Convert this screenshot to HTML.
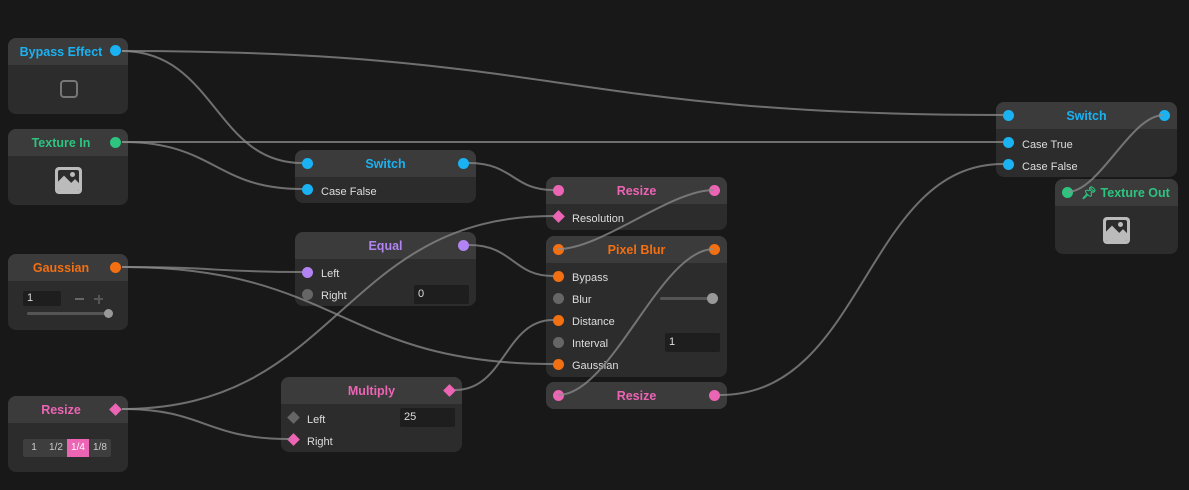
<!DOCTYPE html>
<html><head><meta charset="utf-8"><style>
body{margin:0;width:1189px;height:490px;background:#181818;overflow:hidden;font-family:"Liberation Sans",sans-serif;position:relative}
.n{position:absolute;background:#2c2c2c;border-radius:8px;overflow:hidden}
.h{height:27px;background:#3b3b3b;text-align:center;font-weight:bold;font-size:12.5px;line-height:28px;position:relative}
.s{position:absolute;width:11px;height:11px;border-radius:50%}
.d{position:absolute;width:9px;height:9px;transform:rotate(45deg)}
.r{position:absolute;font-size:11px;color:#ddd;margin-top:3px}
.in{position:absolute;background:#1e1e1e;border-radius:2px;font-size:11px;color:#ddd;padding-left:4px;box-sizing:border-box;line-height:19px}
.B{background:#1ab2f2}.G{background:#2ec480}.O{background:#f26f12}.P{background:#ec64b4}.V{background:#b184f2}.Y{background:#666}.Yd{background:#666}
svg{position:absolute;left:0;top:0}
</style></head><body>

<!-- Bypass Effect -->
<div class="n" style="left:8px;top:38px;width:120px;height:76px"><div class="h" style="color:#1ab2f2;padding-right:14px">Bypass Effect</div>
<div style="position:absolute;left:52px;top:42px;width:14px;height:14px;border:2px solid #777;border-radius:4px"></div></div>
<div class="s B" style="left:110px;top:45px"></div>

<!-- Texture In -->
<div class="n" style="left:8px;top:129px;width:120px;height:76px"><div class="h" style="color:#2ec480;padding-right:14px">Texture In</div>
<div style="position:absolute;left:47px;top:38px;width:27px;height:27px;background:#bbb;border-radius:4px"><div style="position:absolute;left:3px;top:3px;width:21px;height:21px;background:#2c2c2c;border-radius:2px;overflow:hidden"><div style="position:absolute;left:12px;top:2px;width:5px;height:5px;border-radius:50%;background:#bbb"></div><div style="position:absolute;left:-2px;top:9px;width:16px;height:16px;background:#bbb;transform:rotate(45deg)"></div><div style="position:absolute;left:10px;top:12px;width:14px;height:14px;background:#bbb;transform:rotate(45deg)"></div></div></div></div>
<div class="s G" style="left:110px;top:137px"></div>

<!-- Gaussian -->
<div class="n" style="left:8px;top:254px;width:120px;height:76px"><div class="h" style="color:#f26f12;padding-right:14px">Gaussian</div>
<div class="in" style="left:15px;top:37px;width:38px;height:15px;line-height:15px">1</div>
<div style="position:absolute;left:67px;top:44px;width:9px;height:2px;background:#666"></div>
<div style="position:absolute;left:86px;top:44px;width:9px;height:2px;background:#555"></div><div style="position:absolute;left:89.5px;top:40.5px;width:2px;height:9px;background:#555"></div>
<div style="position:absolute;left:19px;top:58px;width:82px;height:3px;background:#555;border-radius:2px"></div>
<div style="position:absolute;left:96px;top:55px;width:9px;height:9px;border-radius:50%;background:#999"></div></div>
<div class="s O" style="left:110px;top:262px"></div>

<!-- Resize left -->
<div class="n" style="left:8px;top:396px;width:120px;height:76px"><div class="h" style="color:#ec64b4;padding-right:14px">Resize</div>
<div style="position:absolute;left:15px;top:43px;width:88px;height:18px;background:#3e3e3e;border-radius:2px;font-size:10px;color:#ccc;line-height:18px">
<span style="position:absolute;left:0;width:22px;text-align:center">1</span><span style="position:absolute;left:22px;width:22px;text-align:center">1/2</span><span style="position:absolute;left:44px;width:22px;text-align:center;background:#ec64b4;color:#fff">1/4</span><span style="position:absolute;left:66px;width:22px;text-align:center">1/8</span></div></div>
<div class="d P" style="left:111px;top:405px"></div>

<!-- Switch mid -->
<div class="n" style="left:295px;top:150px;width:181px;height:53px"><div class="h" style="color:#1ab2f2">Switch</div>
<div class="r" style="left:26px;top:33px">Case False</div></div>
<div class="s B" style="left:302px;top:158px"></div><div class="s B" style="left:458px;top:158px"></div><div class="s B" style="left:302px;top:184px"></div>

<!-- Equal -->
<div class="n" style="left:295px;top:232px;width:181px;height:74px"><div class="h" style="color:#b184f2">Equal</div>
<div class="r" style="left:26px;top:33px">Left</div><div class="r" style="left:26px;top:55px">Right</div>
<div class="in" style="left:119px;top:53px;width:55px;height:19px">0</div></div>
<div class="s V" style="left:458px;top:240px"></div><div class="s V" style="left:302px;top:267px"></div><div class="s Y" style="left:302px;top:289px"></div>

<!-- Multiply -->
<div class="n" style="left:281px;top:377px;width:181px;height:75px"><div class="h" style="color:#ec64b4">Multiply</div>
<div class="r" style="left:26px;top:34px">Left</div><div class="r" style="left:26px;top:56px">Right</div>
<div class="in" style="left:119px;top:31px;width:55px;height:19px">25</div></div>
<div class="d P" style="left:445px;top:386px"></div><div class="d Yd" style="left:289px;top:413px"></div><div class="d P" style="left:289px;top:435px"></div>

<!-- Resize mid -->
<div class="n" style="left:546px;top:177px;width:181px;height:53px"><div class="h" style="color:#ec64b4">Resize</div>
<div class="r" style="left:26px;top:33px">Resolution</div></div>
<div class="s P" style="left:553px;top:185px"></div><div class="s P" style="left:709px;top:185px"></div><div class="d P" style="left:554px;top:212px"></div>

<!-- Pixel Blur -->
<div class="n" style="left:546px;top:236px;width:181px;height:141px"><div class="h" style="color:#f26f12">Pixel Blur</div>
<div class="r" style="left:26px;top:33px">Bypass</div><div class="r" style="left:26px;top:55px">Blur</div><div class="r" style="left:26px;top:77px">Distance</div><div class="r" style="left:26px;top:99px">Interval</div><div class="r" style="left:26px;top:121px">Gaussian</div>
<div style="position:absolute;left:114px;top:61px;width:52px;height:3px;background:#555;border-radius:2px"></div><div style="position:absolute;left:161px;top:57px;width:11px;height:11px;border-radius:50%;background:#999"></div>
<div class="in" style="left:119px;top:97px;width:55px;height:19px">1</div></div>
<div class="s O" style="left:553px;top:244px"></div><div class="s O" style="left:709px;top:244px"></div>
<div class="s O" style="left:553px;top:271px"></div><div class="s Y" style="left:553px;top:293px"></div><div class="s O" style="left:553px;top:315px"></div><div class="s Y" style="left:553px;top:337px"></div><div class="s O" style="left:553px;top:359px"></div>

<!-- Resize bottom -->
<div class="n" style="left:546px;top:382px;width:181px;height:27px"><div class="h" style="color:#ec64b4">Resize</div></div>
<div class="s P" style="left:553px;top:390px"></div><div class="s P" style="left:709px;top:390px"></div>

<!-- Switch right -->
<div class="n" style="left:996px;top:102px;width:181px;height:75px"><div class="h" style="color:#1ab2f2">Switch</div>
<div class="r" style="left:26px;top:34px">Case True</div><div class="r" style="left:26px;top:56px">Case False</div></div>
<div class="s B" style="left:1003px;top:110px"></div><div class="s B" style="left:1159px;top:110px"></div><div class="s B" style="left:1003px;top:137px"></div><div class="s B" style="left:1003px;top:159px"></div>

<!-- Texture Out -->
<div class="n" style="left:1055px;top:179px;width:123px;height:75px"><div class="h" style="color:#2ec480;padding-left:18px">&#128204;&#xFE0E; Texture Out</div>
<div style="position:absolute;left:48px;top:38px;width:27px;height:27px;background:#bbb;border-radius:4px"><div style="position:absolute;left:3px;top:3px;width:21px;height:21px;background:#2c2c2c;border-radius:2px;overflow:hidden"><div style="position:absolute;left:12px;top:2px;width:5px;height:5px;border-radius:50%;background:#bbb"></div><div style="position:absolute;left:-2px;top:9px;width:16px;height:16px;background:#bbb;transform:rotate(45deg)"></div><div style="position:absolute;left:10px;top:12px;width:14px;height:14px;background:#bbb;transform:rotate(45deg)"></div></div></div></div>
<div class="s G" style="left:1062px;top:187px"></div>

<svg width="1189" height="490" fill="none" stroke="rgba(140,140,140,0.75)" stroke-width="2">
<path d="M122 51 C560 51 560 115 1003 115"/>
<path d="M122 51 C215 51 215 163 302 163"/>
<path d="M122 142 L1003 142"/>
<path d="M122 142 C215 142 215 189 302 189"/>
<path d="M469 163 C513 163 513 190 553 190"/>
<path d="M122 409 C340 409 340 216 553 216"/>
<path d="M122 409 C205 409 205 439 289 439"/>
<path d="M714 190 C670 190 602 249 558 249"/>
<path d="M469 245 C513 245 513 276 553 276"/>
<path d="M122 267 C215 267 215 272 302 272"/>
<path d="M122 267 C340 267 340 364 553 364"/>
<path d="M455 390 C505 390 505 320 553 320"/>
<path d="M714 249 C660 249 612 395 558 395"/>
<path d="M720 395 C865 395 865 164 1003 164"/>
<path d="M1164 115 C1130 115 1100 192 1067 192"/>
</svg>
</body></html>
